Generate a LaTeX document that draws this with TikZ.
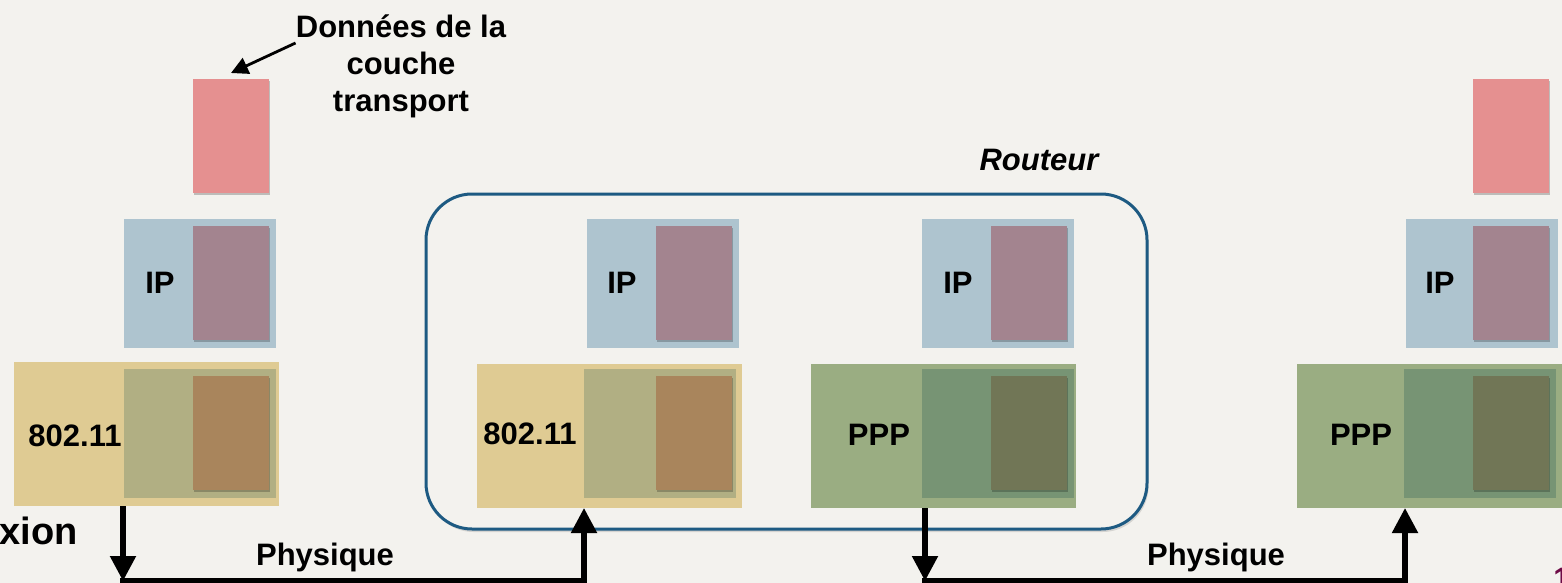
\documentclass[tikz,border=0pt]{standalone}
\usepackage{fontspec}
\setmainfont{Liberation Sans}
\usetikzlibrary{fit,arrows.meta,shadows}
\definecolor{bg}{RGB}{243,242,238}
\definecolor{trcol}{RGB}{229,144,144}
\definecolor{ipcol}{RGB}{174,196,207}
\definecolor{ipin}{RGB}{163,132,143}
\definecolor{wifi}{RGB}{223,203,147}
\definecolor{wifimid}{RGB}{177,175,131}
\definecolor{wifiin}{RGB}{169,133,92}
\definecolor{ppp}{RGB}{154,173,130}
\definecolor{pppmid}{RGB}{119,148,116}
\definecolor{pppin}{RGB}{113,118,86}
\definecolor{routerblue}{RGB}{29,90,130}
\definecolor{pagecol}{RGB}{110,10,70}
\begin{document}
\begin{tikzpicture}[x=0.5pt,y=-0.5pt,
  lbl/.style={font=\fontsize{15.5}{18.5}\selectfont\bfseries, inner sep=0},
  layer/.style={inner sep=0, outer sep=0},
  sh/.style={drop shadow={shadow xshift=0.6pt,shadow yshift=-1.2pt,opacity=0.22,fill=black}},
  wire/.style={line width=2.6pt},
  tipdown/.style={line width=2.6pt, -{Triangle[width=12.5pt,length=12.5pt]}},
  note/.style={line width=1.4pt, -{Triangle[width=8.5pt,length=8.5pt]}}]
\useasboundingbox (0,0) rectangle (1562,583);
\clip (0,0) rectangle (1562,583);
\fill[bg] (0,0) rectangle (1562,583);

% ---------- left host ----------
\node[layer, fit={(193,79)(269,193)}, fill=trcol, sh] (T1) {};
\node[layer, fit={(124,219)(276,348)}, fill=ipcol] (I1) {};
\fill[ipin, sh] (193,226) rectangle (269,340);
\node[lbl] (i1l) at (160,283) {IP};
\node[layer, fit={(14,362)(279,506)}, fill=wifi] (L1) {};
\fill[wifimid] (124,369) rectangle (276,498);
\fill[wifiin, sh] (193,376) rectangle (269,490);
\node[lbl] (l1l) at (75,436) {802.11};

% annotation
\node[lbl, align=center] (tl) at (401,66) {Données de la\\couche\\transport};
\draw[note] ([yshift=11.5pt]tl.west) -- ([yshift=3pt]T1.north);

% ---------- router ----------
\node[layer, fit={(426,194)(1147,529)}, draw=routerblue, line width=1.5pt, rounded corners=23pt,
      drop shadow={shadow xshift=0.8pt,shadow yshift=-1.5pt,opacity=0.12,fill=black}, fill=bg] (R) {};
\node[lbl, font=\fontsize{15.5}{18.5}\selectfont\bfseries\itshape] (rl) at (1039,160) {Routeur};

\node[layer, fit={(587,219)(739,348)}, fill=ipcol] (I2) {};
\fill[ipin, sh] (656,226) rectangle (732,340);
\node[lbl] (i2l) at (622,283) {IP};
\node[layer, fit={(477,364)(742,508)}, fill=wifi] (RL) {};
\fill[wifimid] (584,369) rectangle (736,498);
\fill[wifiin, sh] (656,376) rectangle (732,490);
\node[lbl] (rll) at (530,434) {802.11};

\node[layer, fit={(922,219)(1074,348)}, fill=ipcol] (I3) {};
\fill[ipin, sh] (991,226) rectangle (1067,340);
\node[lbl] (i3l) at (958,283) {IP};
\node[layer, fit={(811,364)(1076,508)}, fill=ppp] (RR) {};
\fill[pppmid] (922,369) rectangle (1074,498);
\fill[pppin, sh] (991,376) rectangle (1067,490);
\node[lbl] (rrl) at (879,435) {PPP};

% ---------- right host ----------
\node[layer, fit={(1473,79)(1549,193)}, fill=trcol, sh] (T2) {};
\node[layer, fit={(1406,219)(1558,348)}, fill=ipcol] (I4) {};
\fill[ipin, sh] (1473,226) rectangle (1549,340);
\node[lbl] (i4l) at (1440,283) {IP};
\node[layer, fit={(1297,364)(1566,508)}, fill=ppp] (L2) {};
\fill[pppmid] (1404,369) rectangle (1556,498);
\fill[pppin, sh] (1473,376) rectangle (1549,490);
\node[lbl] (l2l) at (1361,435) {PPP};

% ---------- physical links ----------
\coordinate (p1) at (123,581);
\coordinate (p2) at (584,581);
\coordinate (p3) at (925,581);
\coordinate (p4) at (1405,581);
\draw[tipdown] (L1.south -| p1) -- (p1);
\draw[wire] ([xshift=-1.3pt]p1) -- ([xshift=1.3pt]p2);
\draw[tipdown] (p2) -- (RL.south -| p2);
\draw[tipdown] (RR.south -| p3) -- (p3);
\draw[wire] ([xshift=-1.3pt]p3) -- ([xshift=1.3pt]p4);
\draw[tipdown] (p4) -- (L2.south -| p4);
\node[lbl] (ph1) at (325,557) {Physique};
\node[lbl] (ph2) at (1216,557) {Physique};

% ---------- cut-off texts at the edges ----------
\node[inner sep=0, anchor=base east, font=\fontsize{19}{22}\selectfont\bfseries] (cx) at (78,544) {xion};
\node[inner sep=0, anchor=north west, text=pagecol, font=\fontsize{15.5}{18.5}\selectfont\bfseries] (pg) at (1553,568) {1};
\end{tikzpicture}
\end{document}
